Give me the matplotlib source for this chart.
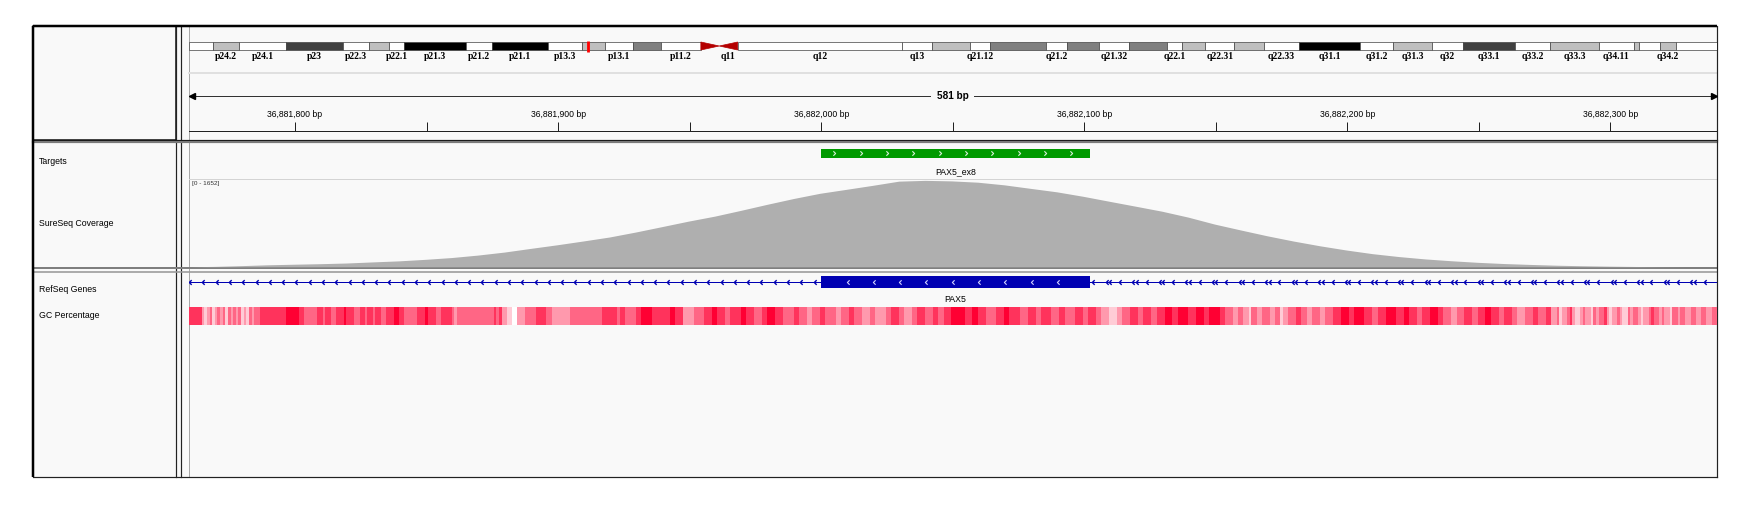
import numpy as np
import matplotlib
matplotlib.use("Agg")
import matplotlib.pyplot as plt
from matplotlib.patches import Rectangle, Polygon
from matplotlib.path import Path

plt.rcParams["font.family"] = ["Liberation Sans", "DejaVu Sans"]

W, H, DPI = 1752, 509, 100
PT = 72.0 / DPI  # one pixel in points

# ---- locus -------------------------------------------------------------
chrom_len_mb = 141.2
view_start = 36881759.5
view_end = 36882340.5

# ---- chr9 cytobands (Mb) -----------------------------------------------
band_names = ["p24.3", "p24.2", "p24.1", "p23", "p22.3", "p22.2", "p22.1", "p21.3",
              "p21.2", "p21.1", "p13.3", "p13.2", "p13.1", "p12", "p11.2", "p11.1",
              "q11", "q12", "q13", "q21.11", "q21.12", "q21.13", "q21.2", "q21.31",
              "q21.32", "q21.33", "q22.1", "q22.2", "q22.31", "q22.32", "q22.33",
              "q31.1", "q31.2", "q31.3", "q32", "q33.1", "q33.2", "q33.3", "q34.11",
              "q34.12", "q34.13", "q34.2", "q34.3"]
band_starts = [0.0, 2.2, 4.6, 9.0, 14.2, 16.6, 18.5, 19.9, 25.6, 28.0, 33.2, 36.3,
               38.4, 41.0, 43.6, 47.3, 49.0, 50.7, 65.9, 68.7, 72.2, 74.0, 79.2, 81.1,
               84.1, 86.9, 90.4, 91.8, 93.9, 96.6, 99.3, 102.6, 108.2, 111.3, 114.9,
               117.7, 122.5, 125.8, 130.3, 133.5, 134.0, 135.9, 137.4]
band_stains = ["gneg", "gpos25", "gneg", "gpos75", "gneg", "gpos25", "gneg", "gpos100",
               "gneg", "gpos100", "gneg", "gpos25", "gneg", "gpos50", "gneg", "acen",
               "acen", "gvar", "gneg", "gpos25", "gneg", "gpos50", "gneg", "gpos50",
               "gneg", "gpos50", "gneg", "gpos25", "gneg", "gpos25", "gneg", "gpos100",
               "gneg", "gpos25", "gneg", "gpos75", "gneg", "gpos25", "gneg", "gpos25",
               "gneg", "gpos25", "gneg"]
shown_labels = ["p24.2", "p24.1", "p23", "p22.3", "p22.1", "p21.3", "p21.2", "p21.1",
                "p13.3", "p13.1", "p11.2", "q11", "q12", "q13", "q21.12", "q21.2",
                "q21.32", "q22.1", "q22.31", "q22.33", "q31.1", "q31.2", "q31.3", "q32",
                "q33.1", "q33.2", "q33.3", "q34.11", "q34.2"]
stain_color = {"gneg": "#ffffff", "gpos25": "#bfbfbf", "gpos50": "#808080",
               "gpos75": "#404040", "gpos100": "#000000", "gvar": "#ffffff"}

# ---- features ----------------------------------------------------------
target_name = "PAX5_ex8"
target_start, target_end = 36882000, 36882102
gene_name = "PAX5"
exon_start, exon_end = 36882000, 36882102

# ---- coverage (every 10 bp from view start) ------------------------------
cov_offset = np.arange(0, 590, 10)
cov_vals = [0, 8, 22, 38, 49, 59, 72, 93, 113, 142,
            176, 223, 280, 350, 418, 491, 567, 662, 765, 869,
            964, 1075, 1190, 1300, 1399, 1474, 1550, 1630, 1645, 1635,
            1610, 1560, 1493, 1427, 1342, 1247, 1153, 1058, 945, 813,
            700, 590, 490, 400, 320, 250, 195, 150, 115, 85,
            62, 45, 30, 20, 12, 6, 2, 0, 0]
cov_max = 1652

# ---- GC percentage runs (bp length, percent) from view start --------------
gc_len = [5, 1, 1, 1, 1, 1, 1, 1, 1, 1, 1, 1, 1, 1, 1, 1, 1, 1, 1, 1, 1, 2, 1,
          9, 5, 2, 5, 2, 1, 2, 2, 3, 1, 3, 2, 2, 1, 2, 1, 2, 2, 3, 2, 2, 5, 3, 1, 3, 2,
          4, 1, 1, 14, 1, 1, 1, 2, 2, 2, 3, 4, 4, 2, 7, 12, 6, 1, 2, 4, 2, 4, 7, 2, 3, 4, 4,
          3, 2, 3, 2, 4, 2, 3, 3, 2, 3,
          3, 4, 2, 3, 2, 3, 2, 4, 2, 3, 2, 3,
          3, 2, 4, 2, 3, 2, 3, 2, 3, 3, 2, 2, 3,
          5, 3, 2, 3, 4, 3, 2, 4, 3, 3, 2, 4, 3, 2, 4, 3, 2, 3, 2,
          3, 3, 2, 3, 3, 2, 3, 2, 3,
          3, 2, 4, 3, 3, 2, 4, 2, 3,
          2, 2, 2, 1, 2, 2, 3, 2, 2, 1, 2, 3, 2, 2, 2, 3, 2, 3,
          3, 3, 2, 4, 3, 2, 3, 4, 3, 2, 3, 2, 3, 3, 2,
          3, 2, 3, 3, 2, 3, 2, 3, 2, 3, 2, 3, 3, 2, 3, 2,
          2, 1, 1, 2, 1, 1, 1, 2, 1, 1, 2, 1, 1, 1, 2, 1, 1, 1, 2, 1, 1, 2, 1, 1, 2, 1,
          1, 2, 1, 1, 2, 1, 1, 2, 1, 2, 1, 2, 2, 2, 2, 2, 2, 2]
gc_pct = [80, 40, 20, 40, 60, 20, 40, 60, 40, 60, 20, 60, 40, 60, 40, 60, 20, 40, 20, 60, 40, 60, 80,
          80, 100, 80, 60, 80, 60, 80, 60, 80, 100, 80, 60, 80, 60, 80, 60, 80, 60, 80, 100, 80, 60, 80, 100, 80, 60,
          80, 60, 40, 60, 80, 60, 80, 40, 20, 0, 40, 60, 80, 60, 40, 60, 80, 60, 80, 60, 80, 100, 80, 100, 80, 40, 60,
          80, 100, 80, 60, 80, 100, 80, 60, 80, 100,
          80, 60, 80, 60, 40, 60, 80, 60, 40, 60, 80, 60,
          40, 60, 40, 60, 80, 60, 40, 60, 80, 60, 80, 60, 80,
          100, 80, 100, 80, 60, 80, 100, 80, 60, 80, 60, 80, 60, 80, 60, 80, 60, 80, 60,
          40, 20, 40, 60, 80, 60, 80, 60, 80,
          100, 80, 100, 80, 100, 80, 100, 80, 60,
          40, 60, 40, 20, 60, 40, 60, 40, 60, 20, 40, 60, 80, 60, 40, 60, 40, 60,
          80, 100, 80, 100, 80, 60, 80, 100, 80, 100, 80, 60, 80, 100, 80,
          60, 40, 60, 80, 60, 80, 100, 80, 60, 80, 60, 40, 60, 80, 60, 80,
          40, 60, 20, 40, 60, 80, 40, 20, 40, 60, 40, 20, 60, 40, 60, 80, 40, 20, 40, 60, 40, 20, 60, 40, 60, 40,
          20, 40, 60, 80, 60, 40, 60, 40, 20, 60, 40, 60, 40, 60, 40, 60, 40, 60]

track_names = ["Targets", "SureSeq Coverage", "RefSeq Genes", "GC Percentage"]
track_name_y = [161, 223, 290, 316]

BG = "#f9f9f9"
fig = plt.figure(figsize=(W / DPI, H / DPI), dpi=DPI)
base = fig.add_axes([0, 0, 1, 1])
base.set_xlim(0, W)
base.set_ylim(H, 0)
base.axis("off")


def px_axes(x0, y0, x1, y1):
    a = fig.add_axes([x0 / W, 1 - y1 / H, (x1 - x0) / W, (y1 - y0) / H])
    a.patch.set_alpha(0)
    a.axis("off")
    return a


L, T, R, B = 33, 25.7, 1717, 477
DL = 188.5
base.add_patch(Rectangle((L, T), R - L, B - T, fc=BG, ec="none"))
# panel dividers
base.plot([176, 176], [T, B], color="#222222", lw=1.2 * PT)
base.plot([181, 181], [T, B], color="#222222", lw=1.2 * PT)
base.plot([DL, DL], [T, B], color="#a8a8a8", lw=1.0 * PT)
base.add_patch(Rectangle((L, T), 176 - L, 140 - T, fc="none", ec="#111111", lw=1.5 * PT))
base.plot([L, R], [140, 140], color="#111111", lw=1.2 * PT)
base.plot([L, R], [142, 142], color="#7a7a7a", lw=2.2 * PT)
base.plot([L, R], [267.6, 267.6], color="#7f7f7f", lw=2.0 * PT)
base.plot([L, R], [271.6, 271.6], color="#9a9a9a", lw=1.6 * PT)
base.plot([DL, R], [72.5, 72.5], color="#e0e0e0", lw=2.0 * PT)
base.plot([DL, R], [179, 179], color="#d4d4d4", lw=1.0 * PT)
# outer frame
base.plot([L, L], [T, B], color="black", lw=2.5 * PT, solid_capstyle="butt")
base.plot([L, R], [T, T], color="black", lw=2.5 * PT, solid_capstyle="butt")
base.plot([R, R], [T, B], color="#222222", lw=1.2 * PT)
base.plot([L, R], [B, B], color="#222222", lw=1.2 * PT)

for name, y in zip(track_names, track_name_y):
    base.text(39, y, name, fontsize=6.3, va="center", ha="left", color="black")
base.text(192, 184, "[0 - %d]" % cov_max, fontsize=4.6, va="center", ha="left", color="#333333")

# ---- ideogram ----------------------------------------------------------
ideo = px_axes(189, 36, R, 64)
ideo.set_xlim(0, chrom_len_mb)
ideo.set_ylim(64, 36)
band_ends = band_starts[1:] + [chrom_len_mb]
for name, s, e, st in zip(band_names, band_starts, band_ends, band_stains):
    if st == "acen":
        if name.startswith("p"):
            tri = [(s, 42), (s, 50), (e, 46)]
        else:
            tri = [(e, 42), (e, 50), (s, 46)]
        ideo.add_patch(Polygon(tri, closed=True, fc="#b40000", ec="#b40000", lw=0.5))
    else:
        ideo.add_patch(Rectangle((s, 42), e - s, 8, fc=stain_color[st], ec="#444444", lw=0.7 * PT))
    if name in shown_labels:
        ideo.text((s + e) / 2, 56.5, name, ha="center", va="center", fontsize=7,
                  fontweight="bold", family=["Liberation Serif", "DejaVu Serif"])
mid_mb = (view_start + view_end) / 2 / 1e6
ideo.plot([mid_mb, mid_mb], [40.5, 51.5], color="red", lw=2.8 * PT, solid_capstyle="butt")

# ---- ruler -------------------------------------------------------------
rul = px_axes(DL, 73, R, 142)
rul.set_xlim(view_start, view_end)
rul.set_ylim(142, 73)
rul.plot([view_start, view_end], [96, 96], color="#333333", lw=1.0 * PT)
rul.plot([view_start + 1.2], [96], marker="<", ms=4, color="black", clip_on=False)
rul.plot([view_end - 1.2], [96], marker=">", ms=4, color="black", clip_on=False)
span = int(round(view_end - view_start))
rul.text((view_start + view_end) / 2, 96, "%d bp" % span, ha="center", va="center",
         fontsize=7.2, fontweight="bold", bbox=dict(fc=BG, ec="none", pad=4))
ticks = np.arange(np.ceil(view_start / 50) * 50, view_end, 50)
rul.vlines(ticks, 122, 131, color="#222222", lw=1.0 * PT)
for t in ticks:
    if t % 100 == 0:
        rul.text(t, 115, "{:,} bp".format(int(t)), ha="center", va="center", fontsize=6.2)
rul.plot([view_start, view_end], [131, 131], color="#222222", lw=1.0 * PT)

# ---- targets -----------------------------------------------------------
chev_r = Path([(-0.5, -1), (0.5, 0), (-0.5, 1)], [Path.MOVETO, Path.LINETO, Path.LINETO])
chev_l = Path([(0.5, -1), (-0.5, 0), (0.5, 1)], [Path.MOVETO, Path.LINETO, Path.LINETO])

feat = px_axes(DL, 143, R, 268)
feat.set_xlim(view_start, view_end)
feat.set_ylim(268, 143)
feat.add_patch(Rectangle((target_start, 149), target_end - target_start, 8.5, fc="#009a00", ec="none"))
tx = np.arange(target_start + 5, target_end - 2, 10)
feat.plot(tx, np.full(len(tx), 153.2), ls="", marker=chev_r, ms=3.2, mfc="none",
          mec="#d8f0d8", mew=0.8)
feat.text((target_start + target_end) / 2, 172, target_name, ha="center", va="center", fontsize=6.3)

# ---- coverage ----------------------------------------------------------
cov = px_axes(DL, 180, R, 266.8)
cov.set_xlim(view_start, view_end)
cov.set_ylim(0, cov_max)
cov.fill_between(view_start + cov_offset, cov_vals, 0, color="#afafaf", lw=0)

# ---- genes + GC --------------------------------------------------------
gen = px_axes(DL, 272, R, B)
gen.set_xlim(view_start, view_end)
gen.set_ylim(B, 272)
blue = "#0000b2"
gen.plot([view_start, view_end], [282, 282], color=blue, lw=1.0 * PT)
left_marks = np.arange(exon_start - 2.5, view_start, -5.05)
gen.plot(left_marks, np.full(len(left_marks), 282), ls="", marker=chev_l, ms=3.4,
         mfc="none", mec=blue, mew=1.0)
right_marks = np.arange(exon_end + 1.5, view_end, 5.05)
gen.plot(right_marks, np.full(len(right_marks), 282), ls="", marker=chev_l, ms=3.4,
         mfc="none", mec=blue, mew=1.0)
extra = right_marks[1::2] + 1.3
gen.plot(extra, np.full(len(extra), 282), ls="", marker=chev_l, ms=3.4,
         mfc="none", mec=blue, mew=1.0)
gen.add_patch(Rectangle((exon_start, 276), exon_end - exon_start, 12, fc=blue, ec="none"))
ex = np.arange(exon_start + 10, exon_end - 4, 10)
gen.plot(ex, np.full(len(ex), 282), ls="", marker=chev_l, ms=3.2, mfc="none",
         mec="#d0d0ff", mew=0.8)
gen.text((exon_start + exon_end) / 2, 300, gene_name, ha="center", va="center", fontsize=6.3)

gc_starts = view_start + np.concatenate([[0], np.cumsum(gc_len)[:-1]])
red = np.array([1.0, 0.0, 0.2])
gc_colors = [tuple(1 - (1 - red) * p / 100.0) for p in gc_pct]
gen.broken_barh(list(zip(gc_starts, gc_len)), (307, 18), facecolors=gc_colors, lw=0)

fig.savefig("out.png", dpi=DPI, facecolor="white")
